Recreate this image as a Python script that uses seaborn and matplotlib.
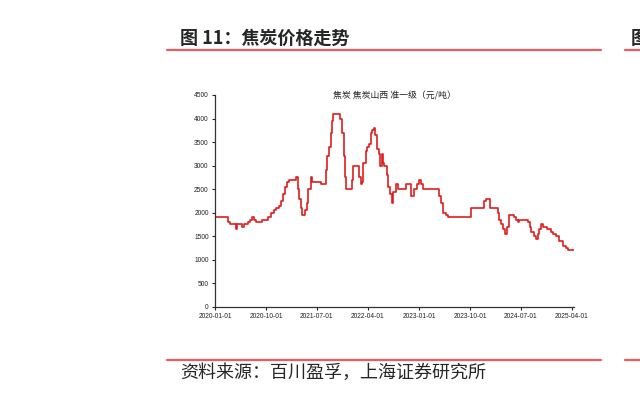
import pandas as pd
import seaborn as sns
import matplotlib.pyplot as plt
import matplotlib.dates as mdates

# 焦炭 山西准一级 价格（元/吨），价格变动点
dates = ['2020-01-01', '2020-03-10', '2020-03-19', '2020-04-22', '2020-04-28', '2020-05-25',
         '2020-06-07', '2020-06-25', '2020-07-07', '2020-07-16', '2020-07-28', '2020-08-07',
         '2020-09-10', '2020-10-12', '2020-10-25', '2020-11-10', '2020-11-22', '2020-12-07',
         '2020-12-19', '2021-01-01', '2021-01-10', '2021-01-22', '2021-02-01', '2021-03-13',
         '2021-03-19', '2021-03-25', '2021-04-04', '2021-04-13', '2021-04-28', '2021-05-07',
         '2021-05-16', '2021-05-28', '2021-06-07', '2021-07-22', '2021-08-19', '2021-08-25',
         '2021-09-04', '2021-09-13', '2021-09-19', '2021-09-25', '2021-11-04', '2021-11-13',
         '2021-11-22', '2021-11-28', '2021-12-04', '2022-01-07', '2022-01-13', '2022-02-10',
         '2022-02-22', '2022-03-01', '2022-03-07', '2022-03-19', '2022-03-28', '2022-04-07',
         '2022-04-16', '2022-04-25', '2022-05-01', '2022-05-10', '2022-05-19', '2022-06-01',
         '2022-06-07', '2022-06-16', '2022-06-22', '2022-06-28', '2022-07-10', '2022-07-19',
         '2022-07-28', '2022-08-07', '2022-08-13', '2022-08-28', '2022-09-07', '2022-10-25',
         '2022-11-19', '2022-12-07', '2022-12-19', '2023-01-01', '2023-01-13', '2023-01-22',
         '2023-04-19', '2023-04-28', '2023-05-07', '2023-05-25', '2023-06-04', '2023-10-04',
         '2023-12-16', '2023-12-28', '2024-01-19', '2024-02-28', '2024-03-07', '2024-03-16',
         '2024-03-28', '2024-04-07', '2024-04-16', '2024-04-25', '2024-05-25', '2024-06-04',
         '2024-06-13', '2024-06-22', '2024-08-07', '2024-08-16', '2024-08-25', '2024-09-07',
         '2024-09-19', '2024-09-28', '2024-10-07', '2024-10-16', '2024-10-25', '2024-11-19',
         '2024-12-07', '2024-12-19', '2025-01-04', '2025-01-22', '2025-02-10', '2025-02-28',
         '2025-03-10', '2025-04-12']
prices = [1900, 1800, 1750, 1650, 1750, 1700,
          1750, 1800, 1850, 1900, 1850, 1800,
          1850, 1900, 2000, 2050, 2100, 2150,
          2250, 2400, 2550, 2650, 2700, 2750,
          2500, 2300, 2100, 1950, 2050, 2200,
          2500, 2750, 2650, 2600, 2900, 3200,
          3400, 3700, 3950, 4100, 4000, 3700,
          3200, 2750, 2500, 2700, 3000, 2750,
          2600, 2650, 3050, 3300, 3400, 3450,
          3700, 3750, 3800, 3650, 3350, 3250,
          3000, 3250, 3050, 3000, 2800, 2550,
          2400, 2200, 2450, 2600, 2500, 2600,
          2350, 2500, 2600, 2700, 2600, 2500,
          2350, 2200, 2000, 1950, 1900, 2100,
          2250, 2300, 2100, 2000, 1850, 1750,
          1650, 1550, 1700, 1950, 1900, 1850,
          1800, 1850, 1800, 1700, 1600, 1500,
          1450, 1550, 1650, 1750, 1700, 1650,
          1600, 1550, 1500, 1400, 1300, 1250,
          1200, 1200]

xtick_dates = ['2020-01-01', '2020-10-01', '2021-07-01', '2022-04-01',
               '2023-01-01', '2023-10-01', '2024-07-01', '2025-04-01']
yticks = [0, 500, 1000, 1500, 2000, 2500, 3000, 3500, 4000, 4500]

df = pd.DataFrame({'date': pd.to_datetime(dates), 'price': prices})

sns.set_theme(style='ticks')
plt.rcParams['font.family'] = ['Noto Sans CJK SC', 'DejaVu Sans']

fig = plt.figure(figsize=(6.4, 3.94), dpi=100)
ax = fig.add_axes([0.336, 0.221, 0.561, 0.538])

sns.lineplot(data=df, x='date', y='price', ax=ax, color='#de1e1e',
             linewidth=1.2, drawstyle='steps-post')

ax.set_xlim(pd.Timestamp('2020-01-01'), pd.Timestamp('2025-04-12'))
ax.set_ylim(0, 4500)
ax.set_yticks(yticks)
ax.set_xticks(pd.to_datetime(xtick_dates))
ax.xaxis.set_major_formatter(mdates.DateFormatter('%Y-%m-%d'))
ax.set_xlabel('')
ax.set_ylabel('')
for lab in ax.get_xticklabels() + ax.get_yticklabels():
    lab.set_fontfamily('Liberation Sans')
    lab.set_fontsize(4.8)
    lab.set_color('#111111')
ax.tick_params(length=2.5, width=0.8, pad=2, colors='#222222')
for s in ['left', 'bottom']:
    ax.spines[s].set_linewidth(0.9)
    ax.spines[s].set_color('#333333')
sns.despine(ax=ax)

ax.set_title('焦炭 焦炭山西 准一级（元/吨）', fontsize=6.4, color='#222222', pad=0, y=0.985)

# 标题与来源
fig.text(0.281, 0.903, '图 11：焦炭价格走势', fontsize=13, fontweight='bold', va='center', ha='left')
fig.text(0.281, 0.053, '资料来源：百川盈孚，上海证券研究所', fontsize=13, va='center', ha='left')
fig.text(0.986, 0.903, '图', fontsize=13, fontweight='bold', va='center', ha='left')
for yy in [0.873, 0.086]:
    fig.add_artist(plt.Line2D([0.261, 0.939], [yy, yy], color='#f05a5a', linewidth=1.6))
    fig.add_artist(plt.Line2D([0.977, 1.0], [yy, yy], color='#f05a5a', linewidth=1.6))

fig.savefig('out.png', dpi=100, facecolor='white')
